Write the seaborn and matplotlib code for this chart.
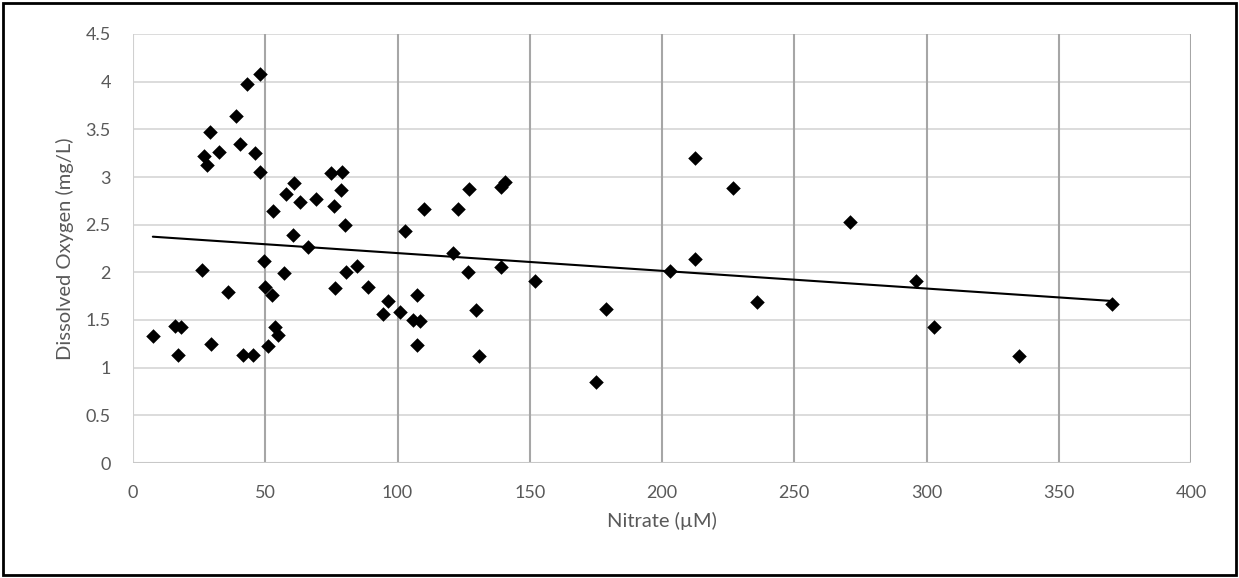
import matplotlib
matplotlib.use("Agg")
import matplotlib.pyplot as plt
import seaborn as sns
import numpy as np
import pandas as pd
from matplotlib.patches import Rectangle

nitrate = [7.5, 16, 17, 18, 26, 27, 28, 29, 29.5, 32.5, 36, 39, 40.5, 41.5, 43,
           45.5, 46, 48, 48, 49.5, 50, 51, 52.5, 53, 53.5, 55, 57, 58, 60.5, 61,
           63, 66, 69, 75, 76, 76.5, 78.5, 79, 80, 80.5, 84.5, 89, 94.5, 96.5,
           101, 103, 106, 107.5, 107.5, 108.5, 110, 121, 123, 126.5, 127, 129.5,
           131, 139, 139, 140.5, 152, 175, 179, 203, 212.5, 212.5, 227, 236,
           271, 296, 303, 335, 370]
oxygen = [1.33, 1.44, 1.13, 1.43, 2.02, 3.22, 3.13, 3.47, 1.25, 3.26, 1.79, 3.64,
          3.35, 1.13, 3.98, 1.13, 3.25, 3.05, 4.08, 2.12, 1.85, 1.23, 1.76, 2.64,
          1.43, 1.34, 1.99, 2.82, 2.39, 2.94, 2.74, 2.27, 2.77, 3.04, 2.70, 1.84,
          2.86, 3.05, 2.50, 2.00, 2.07, 1.85, 1.56, 1.70, 1.58, 2.43, 1.50, 1.24,
          1.76, 1.49, 2.66, 2.20, 2.66, 2.00, 2.87, 1.60, 1.12, 2.06, 2.89, 2.95,
          1.91, 0.85, 1.62, 2.01, 3.20, 2.14, 2.88, 1.69, 2.53, 1.91, 1.43, 1.12,
          1.67]
x_ticks = [0, 50, 100, 150, 200, 250, 300, 350, 400]
y_ticks = [0, 0.5, 1, 1.5, 2, 2.5, 3, 3.5, 4, 4.5]
y_tick_labels = ["0", "0.5", "1", "1.5", "2", "2.5", "3", "3.5", "4", "4.5"]
x_label = "Nitrate (µM)"
y_label = "Dissolved Oxygen (mg/L)"

df = pd.DataFrame({"x": nitrate, "y": oxygen})

sns.set_theme(style="white")
plt.rcParams["font.family"] = ["Lato", "DejaVu Sans"]

fig = plt.figure(figsize=(12.39, 5.78), dpi=100)
ax = fig.add_axes([133/1239, 1 - 463/578, (1191-133)/1239, (463-34)/578])

text_col = "#595959"

# gridlines
for yv in y_ticks:
    ax.axhline(yv, color="#d9d9d9", lw=1.3, zorder=0)
for xv in x_ticks:
    ax.axvline(xv, color="#a6a6a6" if xv != 0 else "#d0d0d0", lw=1.5, zorder=0)
ax.axhline(0, color="#c8c8c8", lw=1.5, zorder=0.5)

# trend line (linear fit across data range)
coef = np.polyfit(df["x"], df["y"], 1)
xs = np.array([df["x"].min(), df["x"].max()])
ax.plot(xs, np.polyval(coef, xs), color="black", lw=1.5, zorder=2)

sns.scatterplot(data=df, x="x", y="y", marker="D", color="black", s=55,
                edgecolor="black", linewidth=0, ax=ax, zorder=3)

ax.set_xlim(0, 400)
ax.set_ylim(0, 4.5)
ax.set_xticks(x_ticks)
ax.set_yticks(y_ticks)
ax.set_yticklabels(y_tick_labels)
ax.tick_params(axis="both", labelsize=13, colors=text_col, length=6,
               width=1, color="#c8c8c8", direction="out")
ax.tick_params(axis="y", pad=10)
ax.tick_params(axis="x", pad=10)
for lab in ax.get_xticklabels() + ax.get_yticklabels():
    lab.set_color(text_col)
for s in ax.spines.values():
    s.set_visible(False)
ax.set_xlabel(x_label, fontsize=14.5, color=text_col, labelpad=8)
ax.set_ylabel(y_label, fontsize=14.5, color=text_col, labelpad=8)

# outer chart border
fig.patches.append(Rectangle((3/1239, 3/578), 1 - 6/1239, 1 - 6/578,
                             transform=fig.transFigure, fill=False,
                             edgecolor="black", lw=2))

fig.savefig("out.png", dpi=100)
